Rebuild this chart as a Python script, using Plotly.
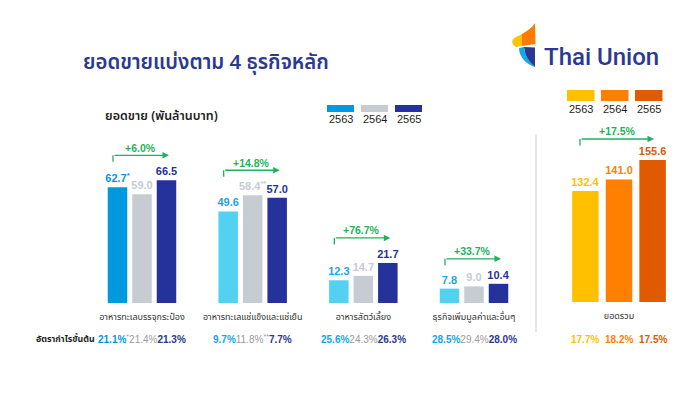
import plotly.graph_objects as go

W, H = 693, 397

# ---------------- data ----------------
categories = ["อาหารทะเลบรรจุกระป๋อง", "อาหารทะเลแช่แข็งและแช่เย็น", "อาหารสัตว์เลี้ยง", "ธุรกิจเพิ่มมูลค่าและอื่นๆ"]
years = ["2563", "2564", "2565"]
sales_2563 = [62.7, 49.6, 12.3, 7.8]
sales_2564 = [59.0, 58.4, 14.7, 9.0]
sales_2565 = [66.5, 57.0, 21.7, 10.4]
notes_2563 = ["*", "", "", ""]
notes_2564 = ["", "**", "", ""]
notes_2565 = ["", "", "", ""]
growth = ["+6.0%", "+14.8%", "+76.7%", "+33.7%"]
margin_2563 = [21.1, 9.7, 25.6, 28.5]
margin_2564 = [21.4, 11.8, 24.3, 29.4]
margin_2565 = [21.3, 7.7, 26.3, 28.0]

total_category = ["ยอดรวม"]
total_sales = [132.4, 141.0, 155.6]
total_growth = "+17.5%"
total_margin = [17.7, 18.2, 17.5]

# ---------------- styles ----------------
THAI = "Noto Sans Thai, Noto Sans, Liberation Sans, sans-serif"
NUM = "Liberation Sans, Arial, sans-serif"
C63_FIRST = "#0098DF"
C63 = "#52D1F0"
C63_TXT = "#1DA3E6"
C64 = "#C6CCD2"
C65 = "#25329B"
TOT = ["#FFC000", "#FF7F00", "#E05A00"]
GREEN = "#1DB35A"
NAVY = "#2B3990"


def px(x):
    return x / W


def py(y):
    return 1 - y / H


n = len(categories)
xs = list(range(n))

# segment axis geometry (category units)
seg_unit = 110.67
slot_s = 24.5 / seg_unit
w_s = 19.5 / seg_unit
tot_unit = 120.0
slot_t = 33.6 / tot_unit
w_t = 26.5 / tot_unit

fig = go.Figure()

seg_series = [
    (sales_2563, notes_2563, [C63_FIRST] + [C63] * (n - 1), [C63_FIRST] + [C63_TXT] * (n - 1)),
    (sales_2564, notes_2564, [C64] * n, [C64] * n),
    (sales_2565, notes_2565, [C65] * n, [C65] * n),
]
for j, (vals, notes, cols, tcols) in enumerate(seg_series):
    texts = [f"{v:.1f}" + (f"<sup>{nt}</sup>" if nt else "") for v, nt in zip(vals, notes)]
    fig.add_trace(go.Bar(
        x=xs, y=vals, name=years[j], xaxis="x", yaxis="y",
        width=w_s, offset=(j - 1) * slot_s - w_s / 2,
        marker=dict(color=cols, line=dict(width=0)),
        text=texts, textposition="outside", constraintext="none", cliponaxis=False,
        textfont=dict(family=NUM, size=11, color=tcols, weight="bold"),
        hoverinfo="skip",
    ))

for j, v in enumerate(total_sales):
    fig.add_trace(go.Bar(
        x=[0], y=[v], name=years[j], xaxis="x2", yaxis="y2",
        width=w_t, offset=(j - 1) * slot_t - w_t / 2,
        marker=dict(color=TOT[j], line=dict(width=0)),
        text=[f"{v:.1f}"], textposition="outside", constraintext="none", cliponaxis=False,
        textfont=dict(family=NUM, size=11, color=TOT[j], weight="bold"),
        hoverinfo="skip",
    ))

shapes = []
annotations = []

# growth arrows - segments
gap_s = 25 / 1.845
tick_s = 6.5 / 1.845
for i in range(n):
    top = max(sales_2563[i], sales_2564[i], sales_2565[i])
    ly = top + gap_s
    left = i - 29 / seg_unit
    right = i + 27 / seg_unit
    shapes.append(dict(type="line", xref="x", yref="y", x0=left, x1=left, y0=ly, y1=ly - tick_s,
                       line=dict(color=GREEN, width=1.3)))
    annotations.append(dict(xref="x", yref="y", axref="x", ayref="y", x=right, y=ly, ax=left, ay=ly,
                            text="", showarrow=True, arrowhead=2, arrowsize=1, arrowwidth=1.3,
                            arrowcolor=GREEN, standoff=0, startstandoff=0))
    annotations.append(dict(xref="x", yref="y", x=i, y=ly, text=f"<b>{growth[i]}</b>", showarrow=False,
                            yanchor="middle", yshift=7.5, xshift=-1.5,
                            font=dict(family=NUM, size=10.5, color=GREEN)))

# growth arrow - total
gap_t = 21 / 1.336
tick_t = 6.5 / 1.336
ly = max(total_sales) + gap_t
left = -39 / tot_unit
right = 35 / tot_unit
shapes.append(dict(type="line", xref="x2", yref="y2", x0=left, x1=left, y0=ly, y1=ly - tick_t,
                   line=dict(color=GREEN, width=1.3)))
annotations.append(dict(xref="x2", yref="y2", axref="x2", ayref="y2", x=right, y=ly, ax=left, ay=ly,
                        text="", showarrow=True, arrowhead=2, arrowsize=1, arrowwidth=1.3,
                        arrowcolor=GREEN, standoff=0, startstandoff=0))
annotations.append(dict(xref="x2", yref="y2", x=0, y=ly, text=f"<b>{total_growth}</b>", showarrow=False,
                        yanchor="middle", yshift=7.5, xshift=-2,
                        font=dict(family=NUM, size=10.5, color=GREEN)))


# gross margin row
def note_span(nt):
    return f'<span style="color:#8E9AB0"><sup>{nt}</sup></span>' if nt else ""


for i in range(n):
    c1 = C63_FIRST if i == 0 else "#13A4EC"
    s = (f'<b><span style="color:{c1}">{margin_2563[i]:.1f}%</span></b>' + note_span(notes_2563[i]) +
         f'<span style="color:#9A9A9A">{margin_2564[i]:.1f}%</span>' + note_span(notes_2564[i]) +
         f'<b><span style="color:{NAVY}">{margin_2565[i]:.1f}%</span></b>')
    annotations.append(dict(xref="x", yref="paper", x=i, y=py(339), text=s, showarrow=False,
                            xanchor="center", yanchor="middle", font=dict(family=NUM, size=10)))
for j, m in enumerate(total_margin):
    annotations.append(dict(xref="x2", yref="paper", x=(j - 1) * slot_t, y=py(339), text=f"<b>{m:.1f}%</b>",
                            showarrow=False, xanchor="center", yanchor="middle",
                            font=dict(family=NUM, size=10, color=TOT[j])))
annotations.append(dict(xref="paper", yref="paper", x=px(34), y=py(339), text="<b>อัตรากำไรขั้นต้น</b>",
                        showarrow=False, xanchor="left", yanchor="middle",
                        font=dict(family=THAI, size=8.8, color="#1E1E1E")))

# titles
annotations.append(dict(xref="paper", yref="paper", x=px(81), y=py(62), text="ยอดขายแบ่งตาม 4 ธุรกิจหลัก",
                        showarrow=False, xanchor="left", yanchor="middle",
                        font=dict(family=THAI, size=20.4, color=NAVY, weight=600)))
annotations.append(dict(xref="paper", yref="paper", x=px(103), y=py(116), text="ยอดขาย (พันล้านบาท)",
                        showarrow=False, xanchor="left", yanchor="middle",
                        font=dict(family=THAI, size=12.5, color="#1E1E1E", weight=600)))

# legends
seg_leg_cols = [C63_FIRST, C64, C65]
seg_leg_x = [327, 361, 395]
for j, x0 in enumerate(seg_leg_x):
    shapes.append(dict(type="rect", xref="paper", yref="paper", x0=px(x0), x1=px(x0 + 27),
                       y0=py(112), y1=py(105), fillcolor=seg_leg_cols[j], line=dict(width=0)))
    annotations.append(dict(xref="paper", yref="paper", x=px(x0 + 13.5), y=py(119), text=years[j],
                            showarrow=False, xanchor="center", yanchor="middle",
                            font=dict(family=NUM, size=11, color="#1E1E1E")))
tot_leg_x = [567, 601, 635]
for j, x0 in enumerate(tot_leg_x):
    shapes.append(dict(type="rect", xref="paper", yref="paper", x0=px(x0), x1=px(x0 + 27.5),
                       y0=py(101), y1=py(90), fillcolor=TOT[j], line=dict(width=0)))
    annotations.append(dict(xref="paper", yref="paper", x=px(x0 + 13.75), y=py(109), text=years[j],
                            showarrow=False, xanchor="center", yanchor="middle",
                            font=dict(family=NUM, size=11, color="#1E1E1E")))

# separator
shapes.append(dict(type="line", xref="paper", yref="paper", x0=px(536), x1=px(536), y0=py(135), y1=py(332),
                   line=dict(color="#D8DCE0", width=1.5)))


# logo
def P(x, y):
    return f"{px(x):.5f},{py(y):.5f}"


logo_paths = [
    (f"M {P(522,34)} C {P(527,31)} {P(532,28)} {P(535,23)} L {P(535.5,44)} L {P(522,46)} Z", "#FF7A00"),
    (f"M {P(522,34)} L {P(522,46)} L {P(516,47)} C {P(511,44)} {P(511,39)} {P(516,37)} Z", "#FFC400"),
    (f"M {P(524,47)} L {P(535,47.5)} L {P(535,67)} C {P(530,63)} {P(526,58)} {P(525,53)} Z", "#2B3990"),
    (f"M {P(519,48)} L {P(524,47)} C {P(525,55)} {P(529,62)} {P(535,67)} C {P(526,64)} {P(519,57)} {P(519,48)} Z", "#16A8E8"),
]
for d, c in logo_paths:
    shapes.append(dict(type="path", xref="paper", yref="paper", path=d, fillcolor=c, line=dict(width=0)))
annotations.append(dict(xref="paper", yref="paper", x=px(541.5), y=py(57), text="Thai Union",
                        showarrow=False, xanchor="left", yanchor="middle",
                        font=dict(family="Roboto, Open Sans, sans-serif", size=24, color=NAVY, weight=500)))

fig.update_layout(
    width=W, height=H, margin=dict(l=0, r=0, t=0, b=0),
    paper_bgcolor="white", plot_bgcolor="rgba(0,0,0,0)",
    barmode="overlay", showlegend=False,
    xaxis=dict(domain=[px(142 - seg_unit / 2), px(474 + seg_unit / 2)], range=[-0.5, n - 0.5],
               tickvals=xs, ticktext=categories, showgrid=False, zeroline=False, showline=False,
               ticks="", ticklabelstandoff=7, tickfont=dict(family=THAI, size=9, color="#333333"),
               fixedrange=True),
    yaxis=dict(domain=[py(303), py(100)], range=[0, 203 / 1.845], visible=False, fixedrange=True),
    xaxis2=dict(domain=[px(619 - tot_unit / 2), px(619 + tot_unit / 2)], range=[-0.5, 0.5],
                tickvals=[0], ticktext=total_category, showgrid=False, zeroline=False, showline=False,
                ticks="", ticklabelstandoff=7, tickfont=dict(family=THAI, size=9, color="#333333"),
                anchor="y2", fixedrange=True),
    yaxis2=dict(domain=[py(302), py(100)], range=[49.3, 49.3 + 202 / 1.336], visible=False,
                anchor="x2", fixedrange=True),
    shapes=shapes, annotations=annotations,
)

fig.write_html("out.html", config={"displayModeBar": False},
               post_script="document.body.style.margin='0';document.body.style.overflow='hidden';")
